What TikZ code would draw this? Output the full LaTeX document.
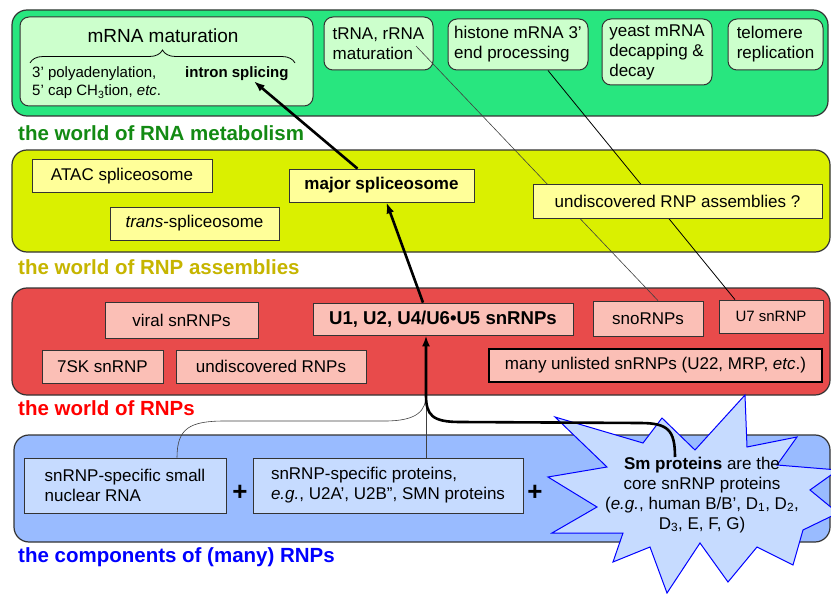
\documentclass[tikz,border=0pt]{standalone}
\usepackage{fontspec}
\setmainfont{Liberation Sans}
\usetikzlibrary{arrows.meta,calc,decorations.pathreplacing}
\definecolor{metagreen}{HTML}{28E67F}
\definecolor{metafill}{HTML}{CCFFCC}
\definecolor{metatext}{HTML}{138A13}
\definecolor{asmlime}{HTML}{DAF000}
\definecolor{asmfill}{HTML}{FFFF99}
\definecolor{asmtext}{HTML}{C6B500}
\definecolor{rnpred}{HTML}{E84B4B}
\definecolor{rnpfill}{HTML}{FBBFB6}
\definecolor{compblue}{HTML}{99BBFF}
\definecolor{compfill}{HTML}{C6DBFF}
\definecolor{edgegray}{HTML}{333333}
\newcommand{\boxfont}{\fontsize{17}{20}\selectfont}
\newcommand{\notefont}{\fontsize{15}{18}\selectfont}
\newcommand{\worldfont}{\fontsize{20.5}{24}\selectfont\bfseries}
\tikzset{
  worldpanel/.style={draw=edgegray, line width=1.2pt, rounded corners=15pt},
  worldlabel/.style={anchor=west, inner sep=0pt, font=\worldfont},
  metanode/.style={
    rectangle,
    rounded corners=9pt,
    draw=edgegray,
    fill=metafill,
    line width=1pt,
    align=left,
    font=\boxfont
  },
  asmnode/.style={
    rectangle,
    draw=edgegray,
    fill=asmfill,
    line width=0.8pt,
    minimum height=33pt,
    font=\boxfont
  },
  rnpnode/.style={asmnode, fill=rnpfill},
  compnode/.style={asmnode, fill=compfill, align=left, minimum height=55pt},
  plussign/.style={inner sep=0pt, font=\fontsize{26}{26}\selectfont\bfseries},
  bigarrow/.style={line width=2.6pt, -{Latex[length=11pt,width=8pt]}},
  bigline/.style={line width=2.6pt},
  thinlink/.style={draw=black!75, line width=0.6pt}
}
\begin{document}
\begin{tikzpicture}[x=1pt,y=-1pt]
\useasboundingbox (0,0) rectangle (831,594);
\draw[worldpanel, fill=metagreen] (12,10) rectangle (828,116);
\draw[worldpanel, fill=asmlime] (12,150) rectangle (830,252);
\draw[worldpanel, fill=rnpred] (12,288) rectangle (830,395);
\draw[worldpanel, fill=compblue] (14,435) rectangle (830,542);
\node[worldlabel, text=metatext] (metalabel) at (18,133) {the world of RNA metabolism};
\node[worldlabel, text=asmtext] (asmlabel) at (18,267) {the world of RNP assemblies};
\node[worldlabel, text=red] (rnplabel) at (18,408) {the world of RNPs};
\node[worldlabel, text=blue] (complabel) at (18,557) {the components of (many) RNPs};
\node[metanode, minimum width=293pt, minimum height=89pt] (mrna) at (166.5,61.5) {};
\node[inner sep=0pt, font=\fontsize{19}{22}\selectfont] (mrnatitle) at (163,36) {mRNA maturation};
\draw[decorate, decoration={brace, amplitude=13pt}, line width=0.8pt] (30,63) -- (295,63);
\node[anchor=west, align=left, inner sep=0pt, font=\notefont] (capping) at (32,83) {3' polyadenylation,\\5' cap CH\textsubscript{3}tion, \emph{etc}.};
\node[anchor=west, inner sep=0pt, font=\notefont\bfseries] (intron) at (185,74) {intron splicing};
\node[metanode, minimum width=109pt, minimum height=53pt] (trna) at (378.5,43.5) {tRNA, rRNA\\maturation};
\node[metanode, minimum width=140pt, minimum height=51pt] (histone) at (518,44.5) {histone mRNA 3'\\end processing};
\node[metanode, minimum width=110pt, minimum height=66pt] (yeast) at (657,52) {yeast mRNA\\decapping \&\\decay};
\node[metanode, minimum width=95pt, minimum height=51pt] (telomere) at (775.5,44.5) {telomere\\replication};
\node[asmnode, minimum width=180pt] (atac) at (122,176) {ATAC spliceosome};
\node[asmnode, minimum width=169pt] (trans) at (194.5,223.5) {\emph{trans}-spliceosome};
\node[asmnode, minimum width=185pt, font=\boxfont\bfseries] (major) at (381.5,185.5) {major spliceosome};
\node[rnpnode, minimum width=153pt, minimum height=36pt] (viral) at (181.5,320) {viral snRNPs};
\node[rnpnode, minimum width=121pt] (sevensk) at (102.5,366.5) {7SK snRNP};
\node[rnpnode, minimum width=190pt] (undrnp) at (271,366.5) {undiscovered RNPs};
\node[rnpnode, minimum width=260pt, minimum height=32pt, font=\fontsize{18.6}{22}\selectfont\bfseries] (u1) at (443,319) {U1, U2, U4/U6•U5 snRNPs};
\node[rnpnode, minimum width=110pt, minimum height=35pt] (sno) at (648,318.5) {snoRNPs};
\node[rnpnode, minimum width=104pt, font=\notefont] (u7) at (771,316.5) {U7 snRNP};
\node[rnpnode, minimum width=333pt, draw=black, line width=1.8pt] (many) at (655.5,365.5) {many unlisted snRNPs (U22, MRP, \emph{etc}.)};
\coordinate (trnatail) at (416,46);
\draw[thinlink] (trnatail) -- ($(sno.north)+(10,0)$);
\draw[thinlink, draw=black, line width=0.8pt] ($(histone.south)+(30,0)$) -- ($(u7.north)+(-36,0)$);
\node[asmnode, minimum width=289pt, minimum height=34pt] (undisc) at (677.5,201) {undiscovered RNP assemblies ?};
\node[compnode, minimum width=202pt] (snrna) at (125,485.5) {snRNP-specific small\\nuclear RNA};
\node[compnode, minimum width=270pt] (sprot) at (388,485.5) {snRNP-specific proteins,\\\emph{e.g.}, U2A', U2B'', SMN proteins};
\node[plussign] (plusa) at (240,493) {+};
\node[plussign] (plusb) at (535,493) {+};
\draw[draw=blue, line width=1pt, fill=compfill] (555,417) -- (643,443) -- (662,418) -- (695,450) -- (745,395) -- (747,447) -- (797,437) -- (777,465) -- (838,470) -- (810,490) -- (838,513) -- (803,530) -- (793,565) -- (757,547) -- (728,582) -- (700,543) -- (667,593) -- (650,547) -- (613,562) -- (623,533) -- (552,533) -- (597,507) -- (548,477) -- (607,467) -- cycle;
\node[align=center, inner sep=0pt, font=\boxfont] (smtext) at (702,495) {\textbf{Sm proteins} are the\\core snRNP proteins\\(\emph{e.g.}, human B/B', D\textsubscript{1}, D\textsubscript{2},\\D\textsubscript{3}, E, F, G)};
\coordinate (smtop) at (675,457);
\coordinate (join) at (426,395);
\draw[thinlink] ($(snrna.north)+(52,0)$) .. controls (177,428) and (190,421) .. (225,421) -- (385,421) .. controls (418,421) and (426,410) .. (join);
\draw[thinlink] (sprot.north -| join) -- (join);
\draw[bigarrow] (smtop) .. controls (675,430) and (668,423) .. (640,423) -- (460,422) .. controls (432,422) and (426,415) .. (join) -- (join |- u1.south);
\draw[bigarrow] ($(u1.north)+(-20,0)$) -- ($(major.south)+(5,0)$);
\draw[bigarrow] ($(major.north)+(-24,0)$) -- ($(intron.south)+(17,0)$);
\end{tikzpicture}
\end{document}
